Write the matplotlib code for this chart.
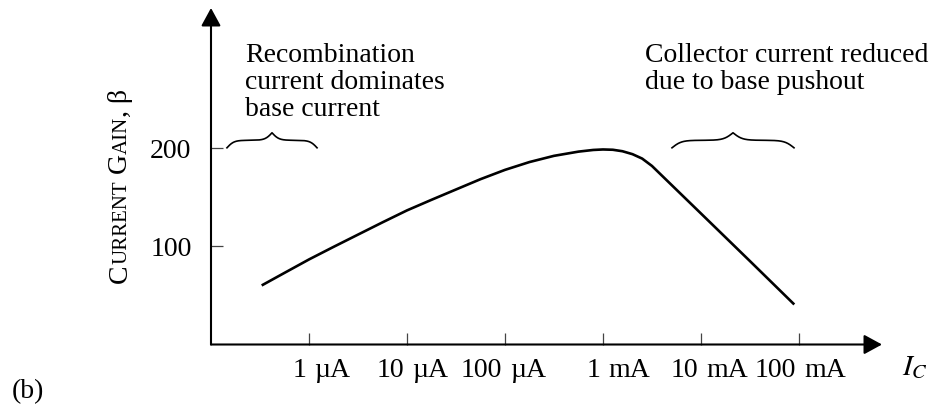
import numpy as np
import matplotlib
matplotlib.use('Agg')
import matplotlib.pyplot as plt
from matplotlib import transforms

SERIF = ['Liberation Serif', 'DejaVu Serif']
plt.rcParams['font.family'] = SERIF
plt.rcParams['mathtext.fontset'] = 'stix'

# ---------------- data ----------------
ic_amps = [3.29e-7, 5.62e-7, 1.0e-6, 1.78e-6, 3.16e-6, 5.62e-6, 1.0e-5, 1.78e-5,
           3.16e-5, 5.62e-5, 1.0e-4, 1.78e-4, 3.16e-4, 5.62e-4, 7.94e-4, 1.0e-3,
           1.26e-3, 1.58e-3, 2.0e-3, 2.51e-3, 3.16e-3, 3.82e-3, 1.0e-2, 3.16e-2,
           8.95e-2]
beta = [60.2, 73.0, 86.7, 99.5, 112.0, 124.5, 136.7, 147.5,
        158.0, 168.5, 178.0, 186.0, 192.3, 196.6, 198.3, 198.8,
        198.5, 197.0, 194.0, 189.5, 182.0, 174.0, 133.5, 85.0,
        40.8]

x_ticks = [1e-6, 1e-5, 1e-4, 1e-3, 1e-2, 1e-1]
x_tick_numbers = ['1', '10', '100', '1', '10', '100']
x_tick_units = ['\u00b5A', '\u00b5A', '\u00b5A', 'mA', 'mA', 'mA']
y_ticks = [100, 200]
y_tick_labels = ['100', '200']

left_note = ['Recombination', 'current dominates', 'base current']
right_note = ['Collector current reduced', 'due to base pushout']
left_note_x = 2.22e-7
right_note_x = 2.69e-3
note_baselines = [288.3, 260.7, 233.2]

brace_left = (1.455e-7, 1.208e-6)
brace_right = (5.06e-3, 8.89e-2)
brace_end_y = 200.5
brace_tip_y = 215.8

xlim = (1e-7, 0.703)
ylim = (0, 343)

# ---------------- figure ----------------
W, H = 933, 407
fig = plt.figure(figsize=(W / 100, H / 100), dpi=100)
ax = fig.add_axes([211 / W, (H - 344.5) / H, (882 - 211) / W, (344.5 - 8) / H])
ax.set_xscale('log')
ax.set_xlim(*xlim)
ax.set_ylim(*ylim)
for s in ax.spines.values():
    s.set_visible(False)
ax.minorticks_off()

ax.plot(ic_amps, beta, color='black', lw=1.9, solid_capstyle='butt',
        solid_joinstyle='round')

# axes arrows
arrow_kw = dict(arrowstyle='-|>,head_length=0.55,head_width=0.3', color='black',
                lw=1.5, shrinkA=0, shrinkB=0, mutation_scale=20)
ax.annotate('', xy=(1, 0), xytext=(0, 0), xycoords='axes fraction',
            textcoords='axes fraction', arrowprops=arrow_kw, annotation_clip=False)
ax.annotate('', xy=(0, 1), xytext=(0, 0), xycoords='axes fraction',
            textcoords='axes fraction', arrowprops=arrow_kw, annotation_clip=False)

# ticks
ax.set_xticks(x_ticks)
ax.set_xticklabels([''] * len(x_ticks))
ax.tick_params(axis='x', which='both', direction='in', length=8.6, width=0.9,
               color='#444444', labelbottom=False)
ax.set_yticks(y_ticks)
ax.set_yticklabels(y_tick_labels, fontsize=20)
ax.tick_params(axis='y', direction='in', length=8.6, width=0.9, color='#444444', pad=14)

# x tick labels: number ends at the tick, unit follows
xtr = ax.get_xaxis_transform()
lab_off_num = transforms.offset_copy(xtr, fig=fig, x=-3, y=-32.5, units='dots')
lab_off_unit = transforms.offset_copy(xtr, fig=fig, x=5, y=-32.5, units='dots')
for xv, num, unit in zip(x_ticks, x_tick_numbers, x_tick_units):
    ax.text(xv, 0, num, transform=lab_off_num, ha='right', va='baseline', fontsize=20)
    ax.text(xv, 0, unit, transform=lab_off_unit, ha='left', va='baseline', fontsize=20)

# braces
def draw_brace(x0, x1, y_end, y_tip, k=13, n=200):
    lu0, lu1 = np.log10(x0), np.log10(x1)
    t = np.linspace(0, 1, n)
    half = 1 / (1 + np.exp(-k * t)) + 1 / (1 + np.exp(-k * (t - 1)))
    yy = np.concatenate([half, half[::-1]])
    uu = np.concatenate([lu0 + (lu1 - lu0) / 2 * t, lu0 + (lu1 - lu0) / 2 * (1 + t)])
    ys = y_end + (yy - 0.5) * (y_tip - y_end)
    ax.plot(10 ** uu, ys, color='black', lw=1.2, clip_on=False)

draw_brace(*brace_left, brace_end_y, brace_tip_y)
draw_brace(*brace_right, brace_end_y, brace_tip_y)

# notes
for line, yb in zip(left_note, note_baselines):
    ax.text(left_note_x, yb, line, ha='left', va='baseline', fontsize=20)
for line, yb in zip(right_note, note_baselines):
    ax.text(right_note_x, yb, line, ha='left', va='baseline', fontsize=20)

# I_C label and (b)
fig.text(902 / W, (H - 375) / H, '$I_C$', fontsize=21, ha='left', va='baseline')
fig.text(12 / W, (H - 398) / H, '(b)', fontsize=20, ha='left', va='baseline')

# y label in small caps, built piece by piece (rotated)
fig.canvas.draw()
r = fig.canvas.get_renderer()
pieces = [('C', 20), ('URRENT', 15), (' G', 20), ('AIN', 15), (', \u03b2', 20)]
ypos = H - 283
xbase = 127
for s, fs in pieces:
    tmp = fig.text(0, 0, s, fontsize=fs)
    w = tmp.get_window_extent(r).width
    tmp.remove()
    fig.text(xbase / W, ypos / H, s, fontsize=fs, rotation=90, rotation_mode='anchor',
             ha='left', va='baseline')
    ypos += w

fig.savefig('out.png', dpi=100)
